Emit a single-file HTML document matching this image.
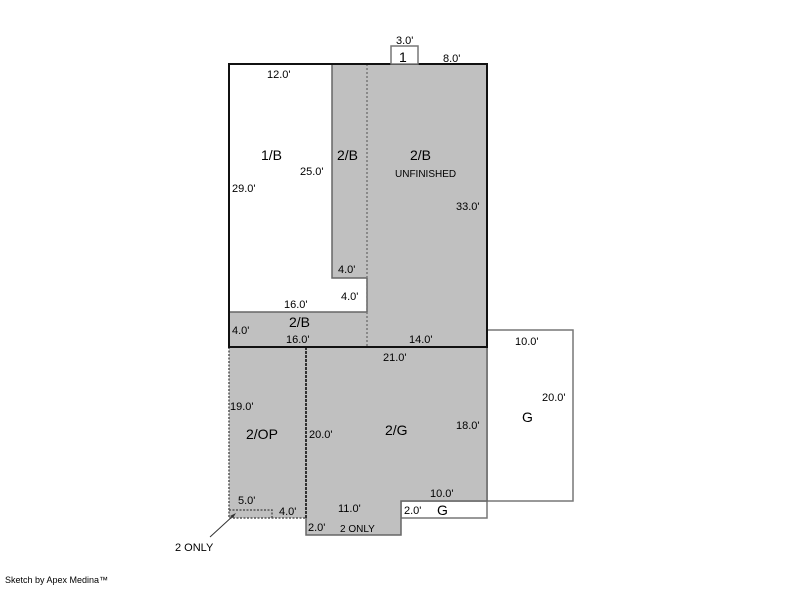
<!DOCTYPE html>
<html><head><style>
body{margin:0;background:#fff;width:800px;height:587px;overflow:hidden}
svg text{font-family:"Liberation Sans",sans-serif;font-size:11px;fill:#000}
.b{font-size:14px}
</style></head><body>
<svg width="800" height="587" viewBox="0 0 800 587">
<!-- G garage -->
<rect x="487" y="330" width="86" height="171" fill="#fff" stroke="#777" stroke-width="1.5"/>
<rect x="401" y="501" width="86" height="17" fill="#fff" stroke="#777" stroke-width="1.5"/>
<!-- gray areas top -->
<rect x="332" y="64" width="35" height="214" fill="#c0c0c0"/>
<rect x="367" y="64" width="120" height="283" fill="#c0c0c0"/>
<rect x="229" y="312" width="138" height="35" fill="#c0c0c0"/>
<path d="M332 64V278H367" fill="none" stroke="#666" stroke-width="1.5"/>
<line x1="367" y1="278" x2="367" y2="312" stroke="#666" stroke-width="1.5"/>
<line x1="229" y1="312" x2="367" y2="312" stroke="#666" stroke-width="1.5"/>
<line x1="367" y1="64" x2="367" y2="347" stroke="#777" stroke-width="1.5" stroke-dasharray="2,2"/>
<!-- bottom gray -->
<rect x="229" y="347" width="77" height="171" fill="#c0c0c0"/>
<path d="M306 347H487V501H401V535H306Z" fill="#c0c0c0"/>
<path d="M487 347V501H401V535H306V518" fill="none" stroke="#666" stroke-width="1.5"/>
<path d="M229 347V518H306" fill="none" stroke="#555" stroke-width="1.5" stroke-dasharray="2,1.5"/>
<line x1="306" y1="347" x2="306" y2="518" stroke="#333" stroke-width="2" stroke-dasharray="3,1"/>
<path d="M229 510H272V518" fill="none" stroke="#555" stroke-width="1.5" stroke-dasharray="2,1.5"/>
<!-- main outline -->
<rect x="229" y="64" width="258" height="283" fill="none" stroke="#111" stroke-width="2"/>
<line x1="229" y1="64" x2="229" y2="347" stroke="#111" stroke-width="2" stroke-dasharray="3,1"/>
<rect x="391" y="46" width="27" height="18" fill="#fff" stroke="#777" stroke-width="1.5"/>
<!-- leader -->
<line x1="210" y1="537" x2="234" y2="515" stroke="#333" stroke-width="1"/>
<path d="M236 513L230 516L233 518Z" fill="#333"/>
<!-- labels -->
<text x="396" y="44">3.0'</text>
<text x="399" y="62" class="b">1</text>
<text x="443" y="62">8.0'</text>
<text x="267" y="78">12.0'</text>
<text x="261" y="160" class="b">1/B</text>
<text x="337" y="160" class="b">2/B</text>
<text x="410" y="160" class="b">2/B</text>
<text x="395" y="177" style="font-size:10px">UNFINISHED</text>
<text x="300" y="175">25.0'</text>
<text x="232" y="192">29.0'</text>
<text x="456" y="210">33.0'</text>
<text x="338" y="273">4.0'</text>
<text x="341" y="300">4.0'</text>
<text x="284" y="308">16.0'</text>
<text x="289" y="327" class="b">2/B</text>
<text x="232" y="334">4.0'</text>
<text x="286" y="343">16.0'</text>
<text x="409" y="343">14.0'</text>
<text x="515" y="345">10.0'</text>
<text x="383" y="361">21.0'</text>
<text x="542" y="401">20.0'</text>
<text x="230" y="410">19.0'</text>
<text x="456" y="429">18.0'</text>
<text x="522" y="422" class="b">G</text>
<text x="246" y="439" class="b">2/OP</text>
<text x="385" y="435" class="b">2/G</text>
<text x="309" y="438">20.0'</text>
<text x="430" y="497">10.0'</text>
<text x="238" y="504">5.0'</text>
<text x="338" y="512">11.0'</text>
<text x="279" y="515">4.0'</text>
<text x="404" y="514">2.0'</text>
<text x="437" y="515" class="b">G</text>
<text x="308" y="531">2.0'</text>
<text x="340" y="532" style="font-size:10px">2 ONLY</text>
<text x="175" y="551">2 ONLY</text>
<text x="5" y="583" style="font-size:9px">Sketch by Apex Medina™</text>
</svg>
</body></html>
